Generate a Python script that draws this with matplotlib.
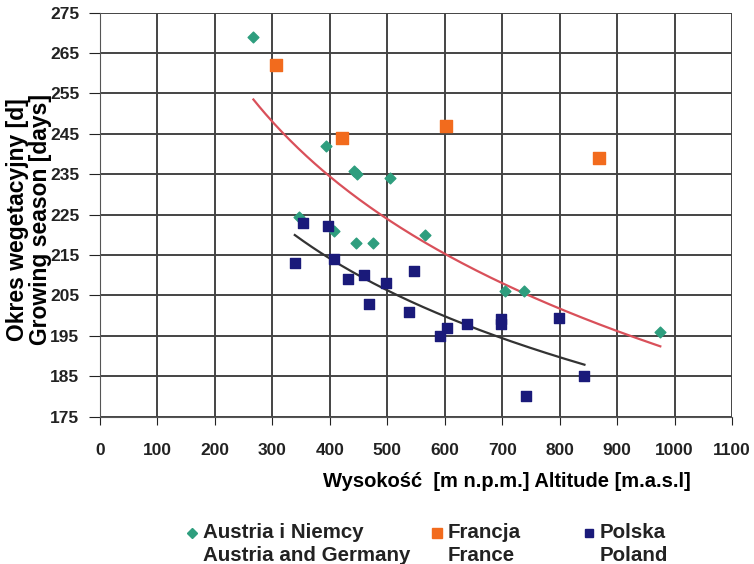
import numpy as np
import matplotlib
matplotlib.use("Agg")
import matplotlib.pyplot as plt
from matplotlib.lines import Line2D

plt.rcParams['font.family'] = ['Liberation Sans', 'DejaVu Sans']
plt.rcParams['font.weight'] = 'bold'

# Austria i Niemcy / Austria and Germany
at_x = [267, 394, 442, 448, 505, 347, 407, 445, 475, 566, 704, 738, 975]
at_y = [269, 242, 235.8, 235, 234, 224.5, 221, 218, 218, 220, 206, 206, 196]

# Francja / France
fr_x = [307, 421, 602, 868]
fr_y = [262, 244, 247, 239]

# Polska / Poland
pl_x = [353, 396, 339, 407, 431, 459, 498, 547, 468, 538, 592, 603, 639, 698, 698, 799, 843, 742]
pl_y = [223, 222.2, 213, 214, 209, 210, 208, 211, 203, 201, 195, 197, 198, 199.2, 198, 199.4, 185, 180]

labels = ['Austria i Niemcy\nAustria and Germany', 'Francja\nFrance', 'Polska\nPoland']
colors = ['#2e9e7e', '#f26b1d', '#1a1a7a']

fig = plt.figure(figsize=(7.54, 5.64), dpi=100)
ax = fig.add_axes([0.1326, 0.2612, 0.8384, 0.7163])

# logarytmiczne linie trendu
for xs, ys, col in [(at_x, at_y, '#d9505a'), (pl_x, pl_y, '#333333')]:
    xs = np.array(xs, float)
    b, a = np.polyfit(np.log(xs), ys, 1)
    xx = np.linspace(xs.min(), xs.max(), 200)
    ax.plot(xx, a + b * np.log(xx), color=col, lw=1.6, zorder=3)

ax.scatter(at_x, at_y, marker='D', s=30, color=colors[0], zorder=4)
ax.scatter(fr_x, fr_y, marker='s', s=70, color=colors[1], zorder=4)
ax.scatter(pl_x, pl_y, marker='s', s=42, color=colors[2], zorder=4)

ax.set_xlim(0, 1100)
ax.set_ylim(175, 275)
ax.set_xticks(np.arange(0, 1101, 100))
ax.set_yticks(np.arange(175, 276, 10))
ax.grid(True, color='#444444', lw=1.4)
ax.set_axisbelow(True)
for s in ['top', 'right']:
    ax.spines[s].set_visible(False)
for s in ['left', 'bottom']:
    ax.spines[s].set_color('#555555')
ax.tick_params(labelsize=12.5, colors='#222222')
ax.tick_params(axis='x', length=6, pad=13)
ax.tick_params(axis='y', length=8, pad=7)

ax.set_xlabel('Wysokość  [m n.p.m.] Altitude [m.a.s.l]', fontsize=14.5,
              fontweight='bold', va='center')
ax.xaxis.set_label_coords(0.6435, -0.1616)
ax.set_ylabel('Okres wegetacyjny [d]\nGrowing season [days]', fontsize=16.5,
              fontweight='bold', linespacing=1.0, va='center')
ax.yaxis.set_label_coords(-0.112, 0.487)

# legenda
leg_tx = [203, 448, 600]
leg_mx = [192, 437, 589]
leg_mk = [('D', 5.5), ('s', 7.5), ('s', 5.5)]
for lab, col, tx, mx, (m, ms) in zip(labels, colors, leg_tx, leg_mx, leg_mk):
    fig.text(tx / 754, 1 - 544 / 564, lab, fontsize=14.8, fontweight='bold',
             va='center', ha='left', linespacing=1.25, color='#222222')
    fig.add_artist(Line2D([mx / 754], [1 - 533 / 564], marker=m, ms=ms,
                          color=col, lw=0, transform=fig.transFigure))

fig.savefig('out.png', dpi=100)
